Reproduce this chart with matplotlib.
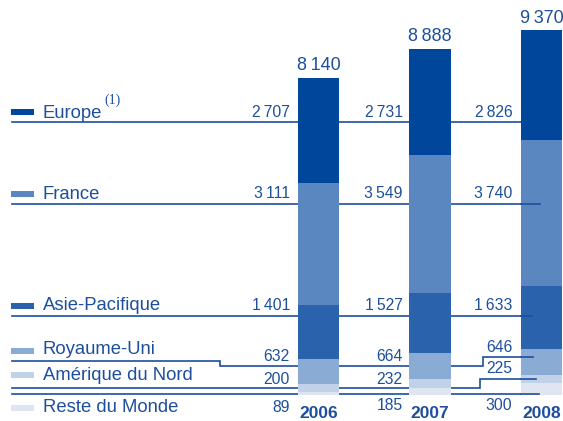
import matplotlib
matplotlib.use("Agg")
import matplotlib.pyplot as plt
from matplotlib.patches import Rectangle
from matplotlib import transforms as mtransforms

# ---------------- data ----------------
years = ["2006", "2007", "2008"]
regions = ["Europe", "France", "Asie-Pacifique", "Royaume-Uni",
           "Amérique du Nord", "Reste du Monde"]
europe = [2707, 2731, 2826]
france = [3111, 3549, 3740]
asie_pacifique = [1401, 1527, 1633]
royaume_uni = [632, 664, 646]
amerique_du_nord = [200, 232, 225]
reste_du_monde = [89, 185, 300]
totals = [8140, 8888, 9370]

# ---------------- style ----------------
W, H = 563, 421
TXT = "#1d4f9d"
colors = {
    "Europe": "#00479b",
    "France": "#5b87c0",
    "Asie-Pacifique": "#2a62ab",
    "Royaume-Uni": "#8aabd3",
    "Amérique du Nord": "#c1d2e8",
    "Reste du Monde": "#dfe6f2",
}
FONT = ["Liberation Sans", "DejaVu Sans"]
plt.rcParams["font.family"] = FONT


def fmt(v):
    return f"{v:,}".replace(",", "\u2009")


fig = plt.figure(figsize=(W / 100, H / 100), dpi=100)
fig.patch.set_facecolor("white")

# pixel-coordinate helper axes (layout only)
axp = fig.add_axes([0, 0, 1, 1])
axp.set_xlim(0, W)
axp.set_ylim(H, 0)
axp.axis("off")
P = axp.transData

# data axes
ax = fig.add_axes([0, 0, 1, 1])
ax.patch.set_alpha(0)
ax.axis("off")
px_per_unit = 0.03895
base_px = 395.0
bar_px0, bar_step = 318.5, 111.5
ax.set_xlim(-bar_px0 / bar_step, (W - bar_px0) / bar_step)
ax.set_ylim(-(H - base_px) / px_per_unit, base_px / px_per_unit)

x = list(range(len(years)))
series = [
    ("Reste du Monde", reste_du_monde),
    ("Amérique du Nord", amerique_du_nord),
    ("Royaume-Uni", royaume_uni),
    ("Asie-Pacifique", asie_pacifique),
    ("France", france),
    ("Europe", europe),
]
bottom = [0, 0, 0]
for name, vals in series:
    ax.bar(x, vals, bottom=bottom, width=0.368, color=colors[name],
           linewidth=0, zorder=2)
    bottom = [b + v for b, v in zip(bottom, vals)]

# totals above the bars
for xi, t in zip(x, totals):
    ax.annotate(fmt(t), xy=(xi, t), xytext=(0, 5.4), textcoords="offset points",
                ha="center", va="baseline", fontsize=13, color=TXT, zorder=4)

# year labels
bt = mtransforms.blended_transform_factory(ax.transData, P)
for xi, yr in zip(x, years):
    ax.text(xi, 418.5, yr, transform=bt, ha="center", va="baseline",
            fontsize=12.5, fontweight="bold", color=TXT, zorder=4)

# legend swatches and names
legend_base = [117.5, 199, 310, 354, 380, 411.5]
legend_sw = [112, 193.5, 305.5, 351, 375, 408]
for name, yb, ys in zip(regions, legend_base, legend_sw):
    ax.add_patch(Rectangle((11, ys - 3), 23, 6, transform=P,
                           facecolor=colors[name], edgecolor="none",
                           clip_on=False, zorder=4))
    ax.text(43, yb, name, transform=P, ha="left", va="baseline",
            fontsize=13.3, color=TXT, zorder=4)
ax.text(104.5, 103.5, "(1)", transform=P, ha="left", va="baseline",
        fontsize=10, family=["Liberation Serif", "DejaVu Serif"], color=TXT,
        zorder=4)

# leader lines (drawn under the bars, end stubs over the 2008 bar)
lines = [
    ([12, 521], [122.3, 122.3]),
    ([12, 540], [204.3, 204.3]),
    ([12, 532], [316, 316]),
    ([12, 220, 220, 483, 483, 533], [360.5, 360.5, 365.7, 365.7, 356.7, 356.7]),
    ([12, 480, 480, 536], [387.7, 387.7, 379, 379]),
    ([12, 539], [393.5, 393.5]),
]
stub_start = 521
for xs, ys in lines:
    ax.plot(xs, ys, transform=P, color=TXT, lw=1.2, zorder=1,
            solid_joinstyle="miter", clip_on=False)
    if xs[-1] > stub_start:
        ax.plot([stub_start, xs[-1]], [ys[-1], ys[-1]], transform=P,
                color=TXT, lw=1.2, zorder=3, clip_on=False)

# value labels per column
cols = [europe, france, asie_pacifique, royaume_uni, amerique_du_nord, reste_du_monde]
right_edges = [290, 402.7, 512.3]
baselines = [
    [117, 198, 310, 361, 383.5, 411.5],
    [117, 198, 310, 361, 384, 410],
    [117, 198, 310, 351.7, 373, 410],
]
for j in range(len(years)):
    for k, vals in enumerate(cols):
        ax.text(right_edges[j], baselines[j][k], fmt(vals[j]), transform=P,
                ha="right", va="baseline", fontsize=11.3, color=TXT, zorder=4)

fig.savefig("out.png", dpi=100, facecolor="white")
